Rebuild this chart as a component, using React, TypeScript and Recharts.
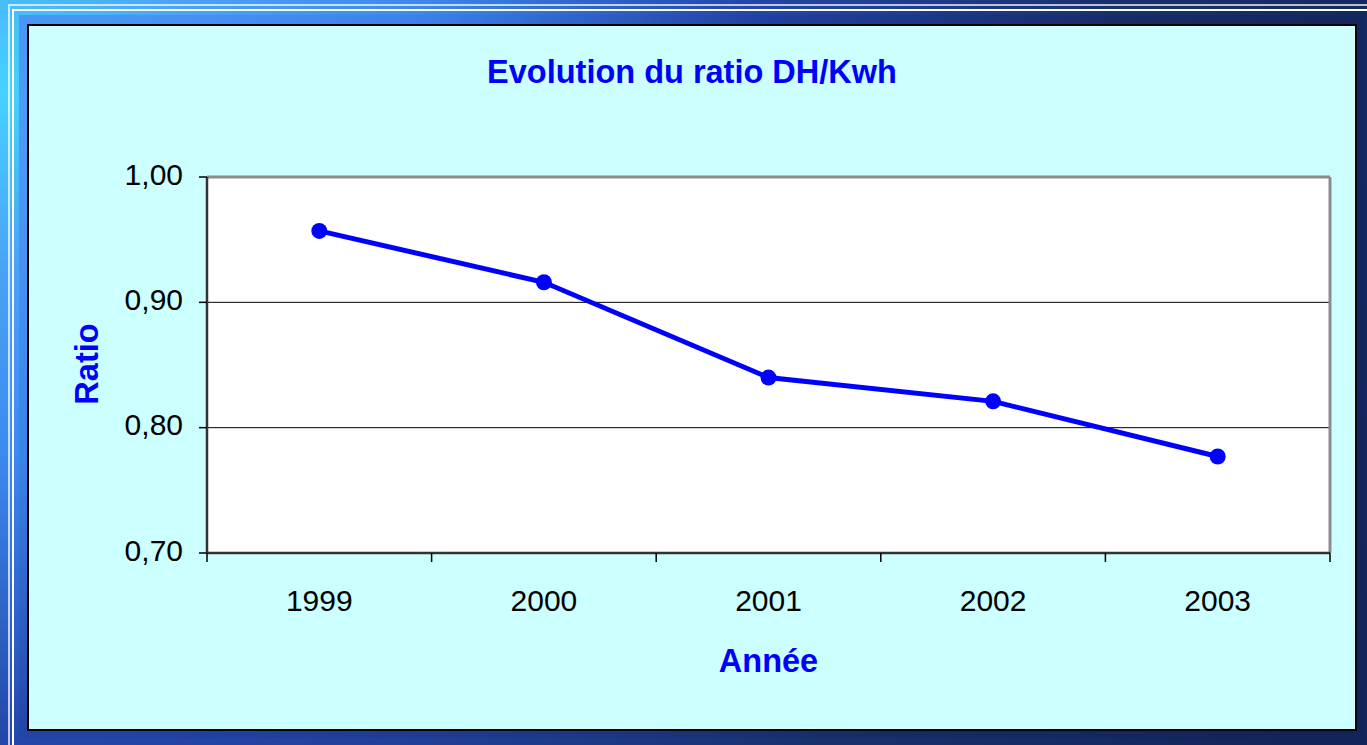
import {
  LineChart, Line, XAxis, YAxis, CartesianGrid, ReferenceLine,
} from 'recharts'

const YEARS = ['1999', '2000', '2001', '2002', '2003']
const RATIO = [0.957, 0.916, 0.840, 0.821, 0.777]
const Y_TICKS = [0.7, 0.8, 0.9, 1.0]
const X_TICKS = [0, 0.5, 1, 1.5, 2, 2.5, 3, 3.5, 4, 4.5, 5]

const data = YEARS.map((year, i) => ({ pos: i + 0.5, year, ratio: RATIO[i] }))

const FONT = '"Liberation Sans", Arial, sans-serif'
const BLUE = '#0000ff'

interface TickProps { x?: number; y?: number; payload?: { value: number } }

// boundaries get a tick mark, centres get the year label
function YearTick({ x = 0, y = 0, payload }: TickProps) {
  const v = payload?.value ?? 0
  if (Number.isInteger(v)) {
    return <line x1={x} y1={y} x2={x} y2={y + 9} stroke="#000" strokeWidth={1.5} />
  }
  return (
    <text x={x} y={y + 58} textAnchor="middle" fontSize={30} fontFamily={FONT} fill="#000">
      {YEARS[Math.floor(v)]}
    </text>
  )
}

const BG = 'radial-gradient(1500px 1300px at 0px 90px, #46d2ff 0%, #4aa2f6 14%, #3c8aee 28%, #2446aa 50%, #18316e 74%, #12255a 100%)'
const BAND = 'radial-gradient(1500px 1300px at 0px 90px, #4a9cf6 0%, #4690f2 14%, #3a80e8 28%, #2040a0 50%, #162c66 74%, #112358 100%)'

export default function App() {
  return (
    <div style={{ position: 'absolute', left: 0, top: 0, width: 1367, height: 745, overflow: 'hidden', background: BG }}>
      <div style={{ position: 'absolute', left: 8, top: 4, right: 0, bottom: 0, borderTop: '2px solid rgba(255,255,255,0.7)', borderLeft: '2px solid rgba(255,255,255,0.7)' }} />
      <div style={{ position: 'absolute', left: 12, top: 9, right: 0, bottom: 0, borderTop: '2px solid #fff', borderLeft: '2px solid #fff' }} />
      <div style={{ position: 'absolute', left: 19, top: 15, width: 1345, height: 723, background: BAND }} />
      <div style={{
        position: 'absolute', left: 27, top: 24, width: 1330, height: 707, boxSizing: 'border-box',
        border: '2px solid #000', background: '#ccffff', fontFamily: FONT,
      }}>
        <div style={{ position: 'absolute', left: 0, top: 30, width: 1326, textAlign: 'center', fontSize: 32.5, lineHeight: 1, fontWeight: 'bold', color: BLUE }}>
          Evolution du ratio DH/Kwh
        </div>
        <div style={{ position: 'absolute', left: 178, top: 619, width: 1123, textAlign: 'center', fontSize: 32.5, lineHeight: 1, fontWeight: 'bold', color: BLUE }}>
          Année
        </div>
        <div style={{ position: 'absolute', left: 58, top: 338, transform: 'translate(-50%, -50%) rotate(-90deg)', fontSize: 32.5, lineHeight: 1, fontWeight: 'bold', color: BLUE }}>
          Ratio
        </div>
        <LineChart width={1326} height={703} data={data} margin={{ top: 151, right: 25, bottom: 116, left: 78 }}>
          <CartesianGrid vertical={false} stroke="#000" strokeWidth={1} fill="#fff" fillOpacity={1} />
          <ReferenceLine y={1.0} stroke="#8c8c8c" strokeWidth={3} />
          <ReferenceLine x={5} stroke="#8c8c8c" strokeWidth={3} />
          <XAxis
            dataKey="pos" type="number" domain={[0, 5]} ticks={X_TICKS} interval={0}
            height={60} tickSize={0} tickMargin={0} tickLine={false}
            axisLine={{ stroke: '#333', strokeWidth: 2.5 }}
            tick={<YearTick />}
          />
          <YAxis
            type="number" domain={[0.7, 1.0]} ticks={Y_TICKS} interval={0} width={100}
            tickSize={8} tickMargin={16}
            tickFormatter={(v: number) => v.toFixed(2).replace('.', ',')}
            tick={{ fontSize: 30, fill: '#000', fontFamily: FONT, dy: -3 }}
            tickLine={{ stroke: '#000', strokeWidth: 1.5 }}
            axisLine={{ stroke: '#333', strokeWidth: 2.5 }}
          />
          <Line
            dataKey="ratio" stroke={BLUE} strokeWidth={5}
            dot={{ r: 8, fill: BLUE, stroke: BLUE, strokeWidth: 0 }}
            isAnimationActive={false}
          />
        </LineChart>
      </div>
    </div>
  )
}
